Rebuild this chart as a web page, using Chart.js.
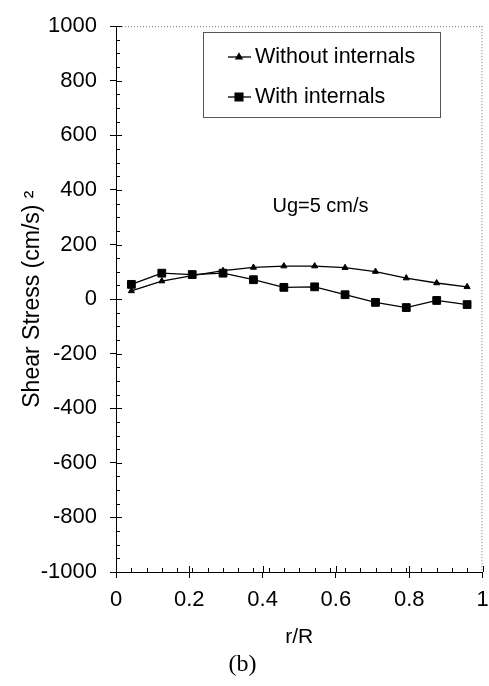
<!DOCTYPE html>
<html>
<head>
<meta charset="utf-8">
<title>Shear stress</title>
<script src="https://cdn.jsdelivr.net/npm/chart.js@4"></script>
<style>
    html, body { margin: 0; padding: 0; background: #fff; }
    canvas { display: block; }
</style>
</head>
<body>
<canvas id="chart" width="489" height="686"></canvas>
<script>
// Data
const rR = [0.042, 0.125, 0.208, 0.292, 0.375, 0.458, 0.542, 0.625, 0.708, 0.792, 0.875, 0.958];
const withoutInternals = [30, 66, 86, 104, 116, 121, 121, 115, 101, 77, 59, 45];
const withInternals = [54, 95, 90, 95, 71, 43, 45, 16, -12, -31, -5, -20];

const xTickValues = [0, 0.2, 0.4, 0.6, 0.8, 1];
const yTickValues = [-1000, -800, -600, -400, -200, 0, 200, 400, 600, 800, 1000];

const seriesLabels = ['Without internals', 'With internals'];
const noteText = 'Ug=5 cm/s';
const notePos = { x: 0.558, y: 338 };

const FONT = "'Liberation Sans', Arial, sans-serif";

function toPoints(xs, ys) {
    return xs.map((x, i) => ({ x: x, y: ys[i] }));
}

// Dotted frame on top/right, inner tick marks
const framePlugin = {
    id: 'frame',
    afterDraw(chart) {
        const ctx = chart.ctx;
        const a = chart.chartArea;
        const xs = chart.scales.x;
        const ys = chart.scales.y;
        ctx.save();
        ctx.strokeStyle = '#777';
        ctx.lineWidth = 1;
        ctx.setLineDash([1, 2]);
        ctx.beginPath();
        ctx.moveTo(a.left, a.top + 0.5);
        ctx.lineTo(a.right, a.top + 0.5);
        ctx.moveTo(a.right - 0.5, a.top);
        ctx.lineTo(a.right - 0.5, a.bottom);
        ctx.stroke();
        ctx.setLineDash([]);

        ctx.strokeStyle = '#000';
        ctx.beginPath();
        // y minor ticks every 50, majors a bit longer
        for (let v = -1000; v <= 1000; v += 50) {
            const py = Math.round(ys.getPixelForValue(v)) + 0.5;
            const len = (v % 200 === 0) ? 6 : 4;
            ctx.moveTo(a.left, py);
            ctx.lineTo(a.left + len, py);
        }
        // x minor ticks every 1/24
        for (let i = 1; i < 24; i++) {
            const px = Math.round(xs.getPixelForValue(i / 24)) + 0.5;
            ctx.moveTo(px, a.bottom);
            ctx.lineTo(px, a.bottom - 4);
        }
        xTickValues.forEach(v => {
            const px = Math.round(xs.getPixelForValue(v)) + 0.5;
            ctx.moveTo(px, a.bottom);
            ctx.lineTo(px, a.bottom - 6);
        });
        ctx.stroke();
        ctx.restore();
    }
};

// Legend box and note text
const legendPlugin = {
    id: 'boxLegend',
    afterDraw(chart) {
        const ctx = chart.ctx;
        ctx.save();
        ctx.strokeStyle = '#555';
        ctx.lineWidth = 1;
        ctx.strokeRect(203.5, 32.5, 237, 85);

        ctx.font = '21.5px ' + FONT;
        ctx.fillStyle = '#000';
        ctx.textBaseline = 'middle';
        const rows = [57, 97];
        chart.data.datasets.forEach((ds, i) => {
            const y = rows[i];
            ctx.strokeStyle = '#000';
            ctx.lineWidth = 1.3;
            ctx.beginPath();
            ctx.moveTo(228, y);
            ctx.lineTo(251, y);
            ctx.stroke();
            Chart.helpers.drawPoint(ctx, {
                pointStyle: ds.pointStyle,
                radius: ds.pointRadius,
                borderWidth: 1
            }, 239, y);
            ctx.fillText(ds.label, 255, y);
        });

        ctx.font = '20px ' + FONT;
        ctx.textAlign = 'center';
        ctx.fillText(noteText,
            chart.scales.x.getPixelForValue(notePos.x),
            chart.scales.y.getPixelForValue(notePos.y));
        ctx.restore();
    }
};

function createChart() {
    const ctx = document.getElementById('chart').getContext('2d');
    new Chart(ctx, {
        type: 'scatter',
        data: {
            datasets: [{
                label: seriesLabels[0],
                data: toPoints(rR, withoutInternals),
                showLine: true,
                borderColor: '#000',
                backgroundColor: '#000',
                borderWidth: 1.3,
                pointStyle: 'triangle',
                pointRadius: 3.5,
                pointBorderWidth: 1
            }, {
                label: seriesLabels[1],
                data: toPoints(rR, withInternals),
                showLine: true,
                borderColor: '#000',
                backgroundColor: '#000',
                borderWidth: 1.3,
                pointStyle: 'rect',
                pointRadius: 5.5,
                pointBorderWidth: 1
            }]
        },
        options: {
            responsive: false,
            animation: false,
            devicePixelRatio: 1,
            layout: {
                padding: { top: 19, right: 4, left: 0, bottom: 0 }
            },
            plugins: {
                legend: { display: false },
                tooltip: { enabled: false },
                title: {
                    display: true,
                    position: 'bottom',
                    text: '(b)',
                    color: '#000',
                    font: { family: "'Liberation Serif', 'Times New Roman', serif", size: 24, weight: 'normal' },
                    padding: { top: 0, bottom: 7 }
                }
            },
            scales: {
                x: {
                    type: 'linear',
                    min: 0,
                    max: 1,
                    afterBuildTicks: (scale) => {
                        scale.ticks = xTickValues.map(v => ({ value: v }));
                    },
                    afterFit: (scale) => {
                        scale.height = 686 - 572 - 35.8;
                        scale.paddingLeft = 0;
                        scale.paddingRight = 0;
                    },
                    ticks: {
                        color: '#000',
                        font: { family: FONT, size: 22 },
                        padding: 9,
                        maxRotation: 0,
                        callback: (v) => String(Math.round(v * 10) / 10)
                    },
                    grid: {
                        drawOnChartArea: false,
                        color: '#000',
                        tickLength: 6
                    },
                    border: { display: true, color: '#000', width: 1 },
                    title: {
                        display: true,
                        text: 'r/R',
                        color: '#000',
                        font: { family: FONT, size: 21 },
                        padding: { top: 2, bottom: 0 }
                    }
                },
                y: {
                    type: 'linear',
                    min: -1000,
                    max: 1000,
                    afterBuildTicks: (scale) => {
                        scale.ticks = yTickValues.map(v => ({ value: v }));
                    },
                    afterFit: (scale) => {
                        scale.width = 116;
                    },
                    ticks: {
                        color: '#000',
                        font: { family: FONT, size: 22 },
                        padding: 13,
                        callback: (v) => String(v)
                    },
                    grid: {
                        drawOnChartArea: false,
                        color: '#000',
                        tickLength: 6
                    },
                    border: { display: true, color: '#000', width: 1 },
                    title: {
                        display: true,
                        text: 'Shear Stress (cm/s) \u00B2',
                        color: '#000',
                        font: { family: FONT, size: 23 },
                        padding: { top: 19, bottom: 0 }
                    }
                }
            }
        },
        plugins: [framePlugin, legendPlugin]
    });
}

window.addEventListener('load', createChart);
</script>
</body>
</html>
